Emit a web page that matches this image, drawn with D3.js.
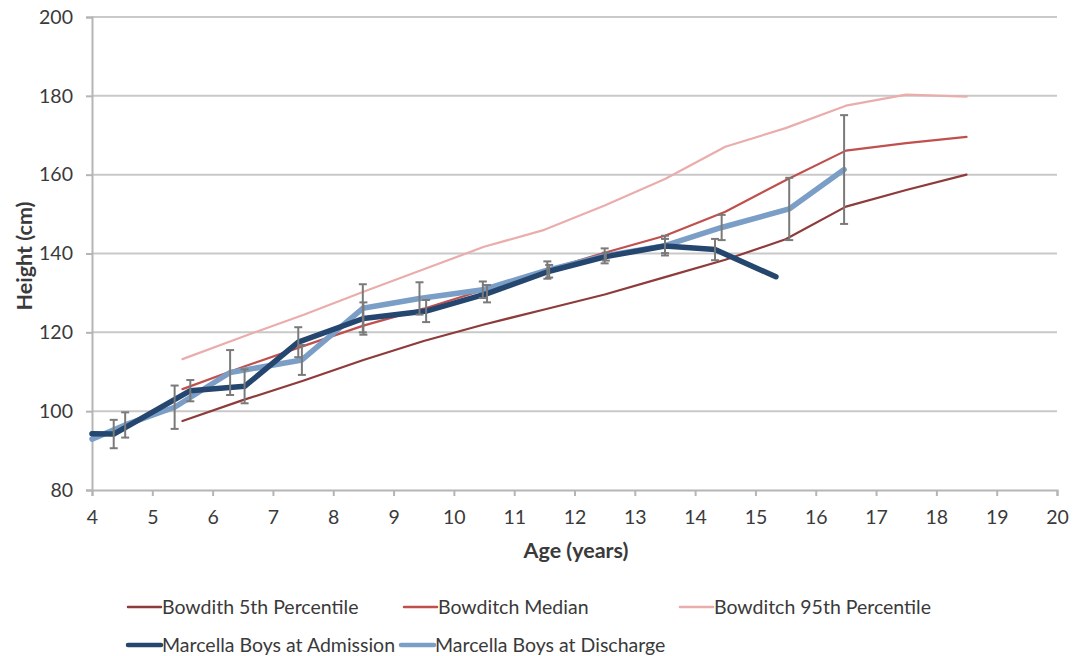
<!DOCTYPE html>
<html>
<head>
<meta charset="utf-8">
<script src="https://cdn.jsdelivr.net/npm/d3@7"></script>
<style>
  html, body { margin: 0; padding: 0; background: #fff; }
  svg { display: block; }
  text { font-family: Lato, "Liberation Sans", sans-serif; fill: #3a3a3a; }
</style>
</head>
<body>
<svg id="chart" width="1074" height="656"></svg>
<script>
// ---------------- data ----------------
const xTickValues = [4,5,6,7,8,9,10,11,12,13,14,15,16,17,18,19,20];
const yTickValues = [80,100,120,140,160,180,200];

const bowditchAges = [5.5,6.5,7.5,8.5,9.5,10.5,11.5,12.5,13.5,14.5,15.5,16.5,17.5,18.5];
const bowditch5th  = [97.5,102.8,107.7,113.0,117.8,122.0,125.8,129.6,134.0,138.4,143.6,151.9,156.1,160.0];
const bowditchMed  = [105.6,111.2,116.5,121.7,126.0,130.8,135.6,140.2,144.5,150.6,158.6,166.1,168.0,169.6];
const bowditch95th = [113.2,118.9,124.4,130.3,136.0,141.7,146.0,152.2,158.9,167.1,171.8,177.5,180.3,179.8];

const admissionAges    = [4.0,4.36,5.63,6.53,7.42,8.5,9.54,10.55,11.58,12.52,13.5,14.33,15.34];
const admissionHeights = [94.3,94.2,105.2,106.3,117.5,123.5,125.4,129.8,135.5,139.2,141.9,141.0,134.1];
const admissionErrors  = [0,3.6,2.7,4.3,3.8,4.1,2.8,2.2,1.6,1.0,1.8,2.7,0];

const dischargeAges    = [4.0,4.55,5.37,6.29,7.48,8.49,9.43,10.48,11.55,12.5,13.5,14.44,15.56,16.47];
const dischargeHeights = [92.9,96.5,101.0,109.8,113.0,126.1,128.6,130.8,135.8,139.4,142.0,146.6,151.3,161.3];
const dischargeErrors  = [0,3.2,5.5,5.7,3.8,6.1,4.1,2.1,2.2,1.9,2.5,3.2,7.9,13.8];

const seriesNames = ["Bowdith 5th Percentile","Bowditch Median","Bowditch 95th Percentile",
                     "Marcella Boys at Admission","Marcella Boys at Discharge"];
const seriesColors = ["#8e3b3b","#c0504d","#e9aeac","#24466f","#7b9ec6"];

// ---------------- layout ----------------
const svg = d3.select("#chart");
const plot = {left: 92, right: 1057, top: 17, bottom: 490};

const x = d3.scaleLinear().domain([4,20]).range([plot.left, plot.right]);
const y = d3.scaleLinear().domain([80,200]).range([plot.bottom, plot.top]);

// gridlines
svg.append("g")
  .selectAll("line")
  .data(yTickValues.filter(v => v > 80))
  .join("line")
  .attr("x1", plot.left).attr("x2", plot.right)
  .attr("y1", d => y(d)).attr("y2", d => y(d))
  .attr("stroke", "#c9c9c9").attr("stroke-width", 2);

// y axis
const yAxis = svg.append("g")
  .attr("transform", `translate(${plot.left},0)`)
  .call(d3.axisLeft(y).tickValues(yTickValues).tickSize(6).tickPadding(13).tickFormat(d3.format("d")));
yAxis.select(".domain").attr("stroke", "#b5b5b5").attr("stroke-width", 2);
yAxis.selectAll(".tick line").attr("stroke", "#b5b5b5").attr("stroke-width", 2);
yAxis.selectAll(".tick text").style("font-size", "19.5px").attr("fill", "#3a3a3a");

// x axis
const xAxis = svg.append("g")
  .attr("transform", `translate(0,${plot.bottom})`)
  .call(d3.axisBottom(x).tickValues(xTickValues).tickSize(6).tickPadding(14).tickFormat(d3.format("d")));
xAxis.select(".domain").attr("stroke", "#b5b5b5").attr("stroke-width", 2);
xAxis.selectAll(".tick line").attr("stroke", "#b5b5b5").attr("stroke-width", 2);
xAxis.selectAll(".tick text").style("font-size", "19.5px").attr("fill", "#3a3a3a");

// axis titles
svg.append("text")
  .attr("x", 576).attr("y", 558)
  .attr("text-anchor", "middle")
  .style("font-size", "21.5px").style("font-weight", "bold").attr("fill", "#111")
  .text("Age (years)");
svg.append("text")
  .attr("transform", `translate(32,256) rotate(-90)`)
  .attr("text-anchor", "middle")
  .style("font-size", "21.5px").style("font-weight", "bold").attr("fill", "#111")
  .text("Height (cm)");

// lines
const line = d3.line().x(d => x(d[0])).y(d => y(d[1])).curve(d3.curveLinear);
const zipPts = (xs, ys) => xs.map((v, i) => [v, ys[i]]);

const percentileSets = [bowditch5th, bowditchMed, bowditch95th];
percentileSets.forEach((vals, i) => {
  svg.append("path")
    .datum(zipPts(bowditchAges, vals))
    .attr("d", line)
    .attr("fill", "none")
    .attr("stroke", seriesColors[i])
    .attr("stroke-width", 2.2)
    .attr("stroke-linejoin", "round")
    .attr("stroke-linecap", "round");
});

svg.append("path")
  .datum(zipPts(dischargeAges, dischargeHeights))
  .attr("d", line)
  .attr("fill", "none").attr("stroke", seriesColors[4])
  .attr("stroke-width", 5.5).attr("stroke-linejoin", "round").attr("stroke-linecap", "round");

svg.append("path")
  .datum(zipPts(admissionAges, admissionHeights))
  .attr("d", line)
  .attr("fill", "none").attr("stroke", seriesColors[3])
  .attr("stroke-width", 5.5).attr("stroke-linejoin", "round").attr("stroke-linecap", "round");

// error bars
function errorBars(ages, heights, errs) {
  const data = ages.map((a, i) => ({a, h: heights[i], e: errs[i]})).filter(d => d.e > 0);
  const g = svg.append("g").attr("stroke", "#7a7a7a").attr("stroke-width", 2);
  g.selectAll("line.v").data(data).join("line")
    .attr("x1", d => x(d.a)).attr("x2", d => x(d.a))
    .attr("y1", d => y(d.h - d.e)).attr("y2", d => y(d.h + d.e));
  g.selectAll("line.t").data(data).join("line")
    .attr("x1", d => x(d.a) - 4).attr("x2", d => x(d.a) + 4)
    .attr("y1", d => y(d.h + d.e)).attr("y2", d => y(d.h + d.e));
  g.selectAll("line.b").data(data).join("line")
    .attr("x1", d => x(d.a) - 4).attr("x2", d => x(d.a) + 4)
    .attr("y1", d => y(d.h - d.e)).attr("y2", d => y(d.h - d.e));
}
errorBars(admissionAges, admissionHeights, admissionErrors);
errorBars(dischargeAges, dischargeHeights, dischargeErrors);

// legend
const legendLayout = [
  {sx: 128, row: 607, w: 2.5},
  {sx: 404, row: 607, w: 2.5},
  {sx: 680, row: 607, w: 2.5},
  {sx: 128, row: 645, w: 4.5},
  {sx: 401, row: 645, w: 4.5}
];
seriesNames.forEach((name, i) => {
  const L = legendLayout[i];
  svg.append("line")
    .attr("x1", L.sx).attr("x2", L.sx + 33)
    .attr("y1", L.row).attr("y2", L.row)
    .attr("stroke", seriesColors[i]).attr("stroke-width", L.w)
    .attr("stroke-linecap", "round");
  svg.append("text")
    .attr("x", L.sx + 34).attr("y", L.row + 7)
    .style("font-size", "19.5px").attr("fill", "#3a3a3a")
    .text(name);
});
</script>
</body>
</html>
